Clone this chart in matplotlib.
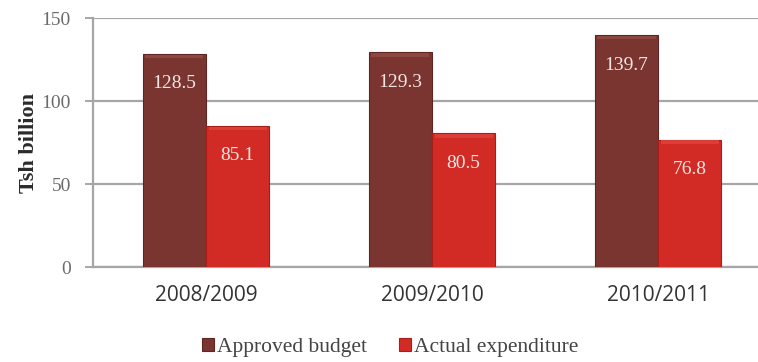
import numpy as np
import matplotlib
matplotlib.use("Agg")
import matplotlib.pyplot as plt

# budget vs. spending, Tsh billion
years = ["2008/2009", "2009/2010", "2010/2011"]
approved = [128.5, 129.3, 139.7]
actual = [85.1, 80.5, 76.8]

c_approved = "#7a3530"
c_actual = "#d22b25"
grey = "#a6a6a6"
serif = "Liberation Serif"

fig = plt.figure(figsize=(7.58, 3.62), dpi=100)
# plot area runs a little past the right edge of the figure
ax = fig.add_axes([0.1227, 0.2624, 0.8945, 0.6876])

x = np.arange(len(years))
w = 0.28

b1 = ax.bar(x - w / 2, approved, w, color=c_approved, edgecolor="#5e2622",
            linewidth=0.8, label="Approved budget", zorder=3)
b2 = ax.bar(x + w / 2, actual, w, color=c_actual, edgecolor="#a81f1a",
            linewidth=0.8, label="Actual expenditure", zorder=3)

# faint lighter strip along the top of each bar
for bars, vals, hi in ((b1, approved, "#8c4741"), (b2, actual, "#dc3d37")):
    for r, v in zip(bars, vals):
        ax.bar(r.get_x() + r.get_width() / 2, 2.0, r.get_width() * 0.92,
               bottom=v - 2.5, color=hi, linewidth=0, zorder=3.5)

# value labels just under the top of each bar
for bars, vals in ((b1, approved), (b2, actual)):
    for r, v in zip(bars, vals):
        ax.annotate(f"{v:.1f}", (r.get_x() + r.get_width() / 2, v),
                    xytext=(0, -30), textcoords="offset pixels",
                    ha="center", va="center", color="#f4e6e2",
                    fontsize=14, family=serif, zorder=4)

ax.set_xlim(-0.5, 2.5)
ax.set_ylim(0, 150)
ax.set_yticks([0, 50, 100, 150])
ax.yaxis.grid(True, color=grey, linewidth=1.6, zorder=0)
ax.set_axisbelow(True)

for s in ("top", "right"):
    ax.spines[s].set_visible(False)
for s in ("left", "bottom"):
    ax.spines[s].set_color(grey)
    ax.spines[s].set_linewidth(1.6)

ax.tick_params(axis="y", colors=grey, length=6, width=1.4, labelsize=14,
               labelcolor="#6b6b6b", pad=10)
ax.tick_params(axis="x", length=0, labelsize=15, labelcolor="#333333", pad=13)
for t in ax.get_yticklabels():
    t.set_family(serif)
ax.set_xticks(x)
ax.set_xticklabels(years, family="Open Sans")

ax.set_ylabel("Tsh billion", family=serif, fontweight="bold", fontsize=16,
              color="#2b2b2b", labelpad=2)

leg = fig.legend(handles=[b1, b2], loc="center", bbox_to_anchor=(0.515, 0.04),
                 ncol=2, frameon=False, handlelength=0.55, handleheight=0.55,
                 handletextpad=0.15, columnspacing=1.5,
                 prop={"family": serif, "size": 15.5})
for t in leg.get_texts():
    t.set_color("#444444")

fig.savefig("out.png", dpi=100)
